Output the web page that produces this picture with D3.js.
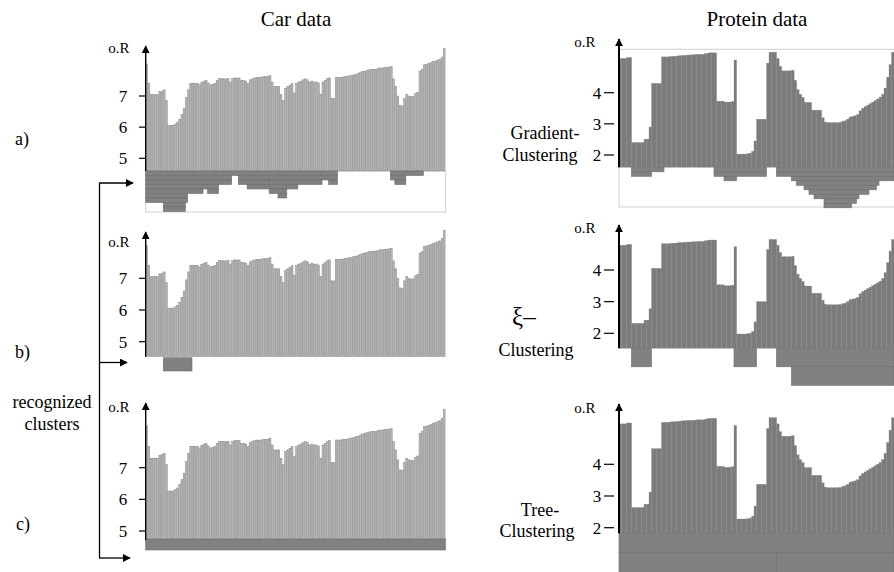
<!DOCTYPE html>
<html>
<head>
<meta charset="utf-8">
<script src="https://cdn.jsdelivr.net/npm/d3@7"></script>
<style>
  body { margin: 0; background: #fff; }
  text { font-family: "Liberation Serif", "Times New Roman", serif; fill: #000; }
</style>
</head>
<body>
<div id="chart"></div>
<script>
// reachability values
var carValues = [8.03, 7.41, 7.05, 7.05, 7.05, 7.05, 7.14, 7.16, 7.2, 6.86,
  6.06, 6.06, 6.06, 6.1, 6.15, 6.25, 6.4, 6.6, 6.95, 7.2,
  7.4, 7.41, 7.41, 7.41, 7.36, 7.44, 7.48, 7.5, 7.42, 7.36,
  7.38, 7.4, 7.5, 7.56, 7.56, 7.55, 7.55, 7.56, 7.45, 7.56,
  7.58, 7.58, 7.58, 7.5, 7.5, 7.48, 7.4, 7.52, 7.55, 7.58,
  7.6, 7.6, 7.6, 7.62, 7.62, 7.63, 7.66, 7.45, 7.3, 7.3,
  7.3, 7.05, 6.86, 7.25, 7.3, 7.35, 7.4, 7.1, 7.4, 7.45,
  7.48, 7.52, 7.55, 7.52, 7.45, 7.48, 7.45, 7.45, 7.42, 7.05,
  7.45, 7.5, 7.56, 7.58, 6.92, 6.92, 7.6, 7.6, 7.6, 7.61,
  7.62, 7.63, 7.65, 7.66, 7.68, 7.7, 7.72, 7.75, 7.78, 7.8,
  7.82, 7.84, 7.85, 7.85, 7.86, 7.88, 7.9, 7.9, 7.91, 7.92,
  7.93, 7.94, 7.55, 7.3, 7.0, 6.7, 6.68, 6.92, 7.05, 7.0,
  6.98, 6.98, 7.08, 7.12, 7.8, 7.85, 8.0, 8.02, 8.04, 8.07,
  8.1, 8.12, 8.15, 8.18, 8.25, 8.52];

var proteinValues = [5.1, 5.1, 5.1, 5.13, 5.13, 2.4, 2.4, 2.4, 2.4, 2.4,
  2.51, 2.51, 2.9, 4.3, 4.3, 4.3, 4.3, 5.15, 5.15, 5.15,
  5.16, 5.17, 5.17, 5.18, 5.19, 5.2, 5.2, 5.21, 5.21, 5.22,
  5.22, 5.23, 5.23, 5.23, 5.25, 5.27, 5.28, 5.28, 5.28, 3.73,
  3.73, 3.73, 3.7, 3.7, 3.7, 3.72, 5.05, 2.03, 2.03, 2.03,
  2.03, 2.04, 2.06, 2.12, 2.45, 3.15, 3.15, 3.15, 3.15, 4.95,
  5.3, 5.3, 5.3, 5.1, 4.85, 4.7, 4.7, 4.7, 4.7, 4.72,
  4.4, 4.1, 3.95, 3.85, 3.69, 3.69, 3.69, 3.44, 3.44, 3.44,
  3.44, 3.2, 3.06, 3.04, 3.04, 3.04, 3.04, 3.04, 3.05, 3.08,
  3.1, 3.15, 3.22, 3.24, 3.26, 3.3, 3.42, 3.5, 3.55, 3.6,
  3.65, 3.7, 3.75, 3.8, 3.86, 3.95, 4.15, 4.5, 4.9, 5.3];

var carTicks = [5, 6, 7];
var proteinTicks = [2, 3, 4];

// clusters: [first bar, last bar, row]
var carClustersA = [[0, 86, 0], [111, 125, 0],
  [0, 38, 1], [42, 55, 1], [56, 86, 1], [111, 117, 1],
  [0, 38, 2], [42, 55, 2], [56, 79, 2], [83, 86, 2], [113, 117, 2],
  [0, 32, 3], [46, 55, 3], [56, 68, 3],
  [0, 25, 4], [28, 32, 4], [56, 63, 4],
  [0, 18, 5], [60, 63, 5],
  [0, 18, 6],
  [8, 17, 7],
  [8, 17, 8]];
var carClustersB = [[8, 20, 0]];
var carClustersC = [[0, 135, 0]];

var proteinClustersA = [[5, 17, 0], [38, 58, 0], [63, 109, 0],
  [5, 12, 1], [38, 58, 1], [63, 109, 1],
  [42, 46, 2], [69, 109, 2],
  [71, 103, 3], [74, 102, 4], [76, 99, 5], [78, 95, 6], [82, 94, 7], [82, 92, 8]];
var proteinClustersB = [[5, 12, 0], [46, 54, 0], [63, 109, 0], [69, 109, 1]];
var proteinClustersC = [[0, 109, 0], [0, 62, 1], [63, 109, 1]];

var W = 894, H = 572;
var svg = d3.select("#chart").append("svg")
  .attr("width", W).attr("height", H);

var defs = svg.append("defs");
defs.append("marker")
  .attr("id", "arr")
  .attr("viewBox", "0 0 10 10")
  .attr("refX", 9).attr("refY", 5)
  .attr("markerWidth", 8).attr("markerHeight", 8)
  .attr("markerUnits", "userSpaceOnUse")
  .attr("orient", "auto")
  .append("path").attr("d", "M0,0L10,5L0,10Z").attr("fill", "#000");

// titles
svg.append("text").attr("x", 296).attr("y", 26).attr("text-anchor", "middle")
  .style("font-size", "21px").text("Car data");
svg.append("text").attr("x", 757).attr("y", 26).attr("text-anchor", "middle")
  .style("font-size", "21px").text("Protein data");

// left side labels
var leftLabels = [["a)", 15, 145], ["b)", 15, 358], ["c)", 16, 530]];
leftLabels.forEach(function (l) {
  svg.append("text").attr("x", l[1]).attr("y", l[2]).style("font-size", "18px").text(l[0]);
});
svg.append("text").attr("x", 52).attr("y", 408).attr("text-anchor", "middle")
  .style("font-size", "18px").text("recognized");
svg.append("text").attr("x", 52).attr("y", 430).attr("text-anchor", "middle")
  .style("font-size", "18px").text("clusters");

// bracket with arrows
svg.append("line").attr("x1", 99.5).attr("y1", 183).attr("x2", 99.5).attr("y2", 558)
  .style("stroke", "#000").style("stroke-width", 1.3);
[[183, 133], [362.5, 127], [558, 130]].forEach(function (a) {
  svg.append("line").attr("x1", 99).attr("y1", a[0]).attr("x2", a[1]).attr("y2", a[0])
    .style("stroke", "#000").style("stroke-width", 1.3)
    .attr("marker-end", "url(#arr)");
});

// protein method labels
svg.append("text").attr("x", 545).attr("y", 139).attr("text-anchor", "middle")
  .style("font-size", "18px").text("Gradient-");
svg.append("text").attr("x", 540).attr("y", 161).attr("text-anchor", "middle")
  .style("font-size", "18px").text("Clustering");
svg.append("text").attr("x", 512).attr("y", 325)
  .style("font-size", "25px").text("ξ–");
svg.append("text").attr("x", 536).attr("y", 356).attr("text-anchor", "middle")
  .style("font-size", "18px").text("Clustering");
svg.append("text").attr("x", 540).attr("y", 516).attr("text-anchor", "middle")
  .style("font-size", "18px").text("Tree-");
svg.append("text").attr("x", 537).attr("y", 537).attr("text-anchor", "middle")
  .style("font-size", "18px").text("Clustering");

function drawPanel(p) {
  var g = svg.append("g");
  var values = p.values;
  var x = d3.scaleBand().domain(d3.range(values.length)).range([p.x0, p.x1]).padding(0);
  var bw = x.bandwidth();
  var yTick = d3.scaleLinear().domain(p.tickDomain).range(p.tickRange);
  var yBar = d3.scaleLinear().domain(p.barDomain).range(p.barRange);

  if (p.frame) {
    g.append("rect").attr("x", p.x0).attr("y", p.frame[0])
      .attr("width", p.frame[2]).attr("height", p.frame[1] - p.frame[0])
      .style("fill", "none").style("stroke", "#cfcfcf").style("stroke-width", 1);
  }

  g.selectAll("rect.bar").data(values).enter().append("rect")
    .attr("class", "bar")
    .attr("x", function (d, i) { return x(i); })
    .attr("y", function (d) { return yBar(d); })
    .attr("width", p.dark ? bw + 0.15 : bw - 0.4)
    .attr("height", function (d) { return p.base - yBar(d); })
    .style("fill", p.dark ? "#7b7b7b" : "#b6b6b6")
    .style("stroke", p.dark ? "#888" : "#8a8a8a")
    .style("stroke-width", p.dark ? 0.25 : 0.5);

  // clusters
  g.selectAll("rect.cl").data(p.clusters).enter().append("rect")
    .attr("class", "cl")
    .attr("x", function (d) { return x(d[0]); })
    .attr("y", function (d) { return p.base + p.rowOff + d[2] * p.rowH; })
    .attr("width", function (d) { return x(d[1]) + bw - x(d[0]); })
    .attr("height", p.rowH)
    .style("fill", "#818181")
    .style("stroke", "#6c6c6c")
    .style("stroke-width", 0.6);

  // axis with arrow
  g.append("line").attr("x1", p.x0).attr("y1", p.base).attr("x2", p.x0).attr("y2", p.top)
    .style("stroke", "#000").style("stroke-width", p.dark ? 2 : 1.4)
    .attr("marker-end", "url(#arr)");

  var ticks = g.selectAll("g.tick").data(p.ticks).enter().append("g").attr("class", "tick")
    .attr("transform", function (d) { return "translate(0," + yTick(d) + ")"; });
  ticks.append("line").attr("x1", p.tickX[0]).attr("x2", p.tickX[1])
    .style("stroke", "#000").style("stroke-width", 1.2);
  ticks.append("text").attr("x", p.labelX).attr("y", 6).attr("text-anchor", "middle")
    .style("font-size", "17px").text(function (d) { return d; });

  g.append("text").attr("x", p.oR[0]).attr("y", p.oR[1]).attr("text-anchor", "middle")
    .style("font-size", "15px").text("o.R");
}

var carPanels = [
  {base: 171, top: 46, tickDomain: [5, 7], tickRange: [158.3, 96], barDomain: [5, 7], barRange: [158.3, 96],
   clusters: carClustersA, rowH: 4.5, rowOff: 0, oR: [119, 53], frame: [171, 212, 300]},
  {base: 356.7, top: 232, tickDomain: [5, 7], tickRange: [341.7, 278.3], barDomain: [5, 7], barRange: [341.7, 278.3],
   clusters: carClustersB, rowH: 13.3, rowOff: 1, oR: [119, 247]},
  {base: 540, top: 403, tickDomain: [5, 7], tickRange: [531, 467.7], barDomain: [6.06, 7.63], barRange: [491, 439],
   clusters: carClustersC, rowH: 11, rowOff: -1, oR: [119, 412]}
];
carPanels.forEach(function (p) {
  p.values = carValues; p.ticks = carTicks; p.x0 = 145.7; p.x1 = 445.5;
  p.tickX = [139, 145.7]; p.labelX = 123; p.dark = false;
  drawPanel(p);
});

var proteinPanels = [
  {base: 167.3, top: 39, tickDomain: [2, 4], tickRange: [155, 92.7], barDomain: [2, 4], barRange: [155, 92.7],
   clusters: proteinClustersA, rowH: 4.5, rowOff: 0, oR: [585, 47], frame: [49.3, 207, 290]},
  {base: 348.3, top: 225, tickDomain: [2, 4], tickRange: [333.3, 270], barDomain: [2.03, 5.28], barRange: [334, 240],
   clusters: proteinClustersB, rowH: 18.5, rowOff: 0, oR: [585, 233]},
  {base: 533.3, top: 404, tickDomain: [2, 4], tickRange: [527.7, 464.3], barDomain: [2.03, 5.28], barRange: [519, 418.3],
   clusters: proteinClustersC, rowH: 19.5, rowOff: 0, oR: [585, 413]}
];
proteinPanels.forEach(function (p) {
  p.values = proteinValues; p.ticks = proteinTicks; p.x0 = 619; p.x1 = 894;
  p.tickX = [604, 614]; p.labelX = 597; p.dark = true;
  drawPanel(p);
});
</script>
</body>
</html>
